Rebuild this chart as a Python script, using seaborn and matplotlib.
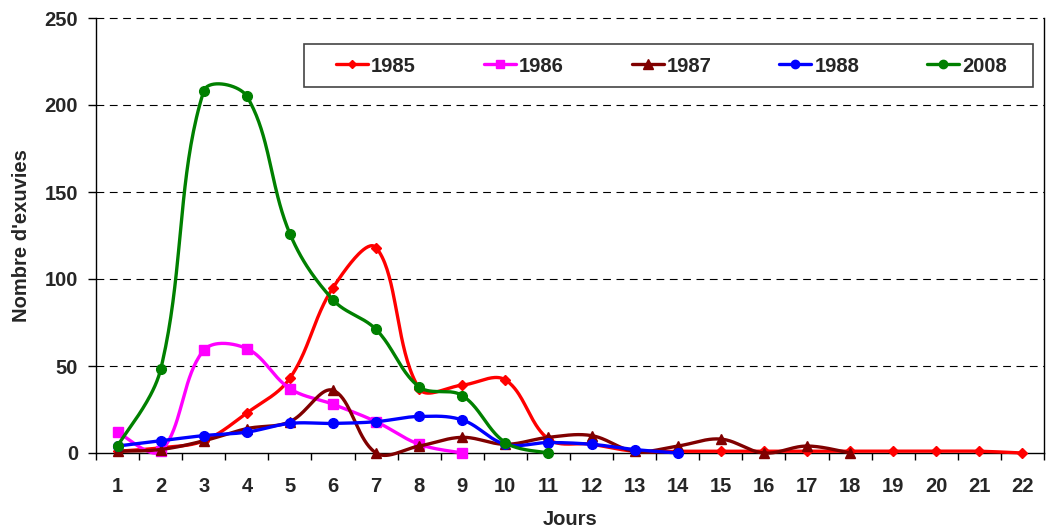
import numpy as np
import pandas as pd
import matplotlib
matplotlib.use("Agg")
import matplotlib.pyplot as plt
from matplotlib.lines import Line2D
from matplotlib.patches import Rectangle
import seaborn as sns

# ---------------- data ----------------
days = list(range(1, 23))
day_labels = [str(d) for d in days]
y_ticks = [0, 50, 100, 150, 200, 250]

series_names = ["1985", "1986", "1987", "1988", "2008"]
v1985 = [1, 3, 7, 23, 43, 95, 118, 37, 39, 42, 8, 5, 1, 1, 1, 1, 1, 1, 1, 1, 1, 0]
v1986 = [12, 1, 59, 60, 37, 28, 18, 5, 0]
v1987 = [1, 2, 7, 14, 18, 36, 0, 4, 9, 5, 9, 10, 1, 4, 8, 0, 4, 0]
v1988 = [4, 7, 10, 12, 17, 17, 18, 21, 19, 5, 6, 5, 2, 0]
v2008 = [4, 48, 208, 205, 126, 88, 71, 38, 33, 6, 0]
series_values = [v1985, v1986, v1987, v1988, v2008]

colors = ["#FF0000", "#FF00FF", "#800000", "#0000FF", "#008000"]
markers = ["D", "s", "^", "o", "o"]
msizes = [5.5, 6.5, 7.5, 7, 7]

# ---------------- style ----------------
sns.set_theme(style="white")
plt.rcParams["font.family"] = ["Liberation Sans", "DejaVu Sans"]
plt.rcParams["font.weight"] = "bold"

FS = 14.5

W, H = 1050, 527
fig = plt.figure(figsize=(W / 100, H / 100), dpi=100)
left, right, top, bottom = 96, 1044, 18, 453
ax = fig.add_axes([left / W, 1 - bottom / H, (right - left) / W, (bottom - top) / H])

ax.set_xlim(0.5, 22.5)
ax.set_ylim(0, 250)

# pixel scales for aspect-aware smoothing
sx = (right - left) / 22.0
sy = (bottom - top) / 250.0


def smooth_curve(xs, ys, n=40, k=0.36):
    P = np.column_stack([np.asarray(xs, float) * sx, np.asarray(ys, float) * sy])
    Pe = np.vstack([P[0], P, P[-1]])
    out = []
    for i in range(len(P) - 1):
        p0, p1, p2, p3 = Pe[i], Pe[i + 1], Pe[i + 2], Pe[i + 3]
        d01 = np.linalg.norm(p1 - p0)
        d12 = np.linalg.norm(p2 - p1)
        d23 = np.linalg.norm(p3 - p2)
        f1 = k * d12 / (d01 + d12) if (d01 + d12) > 0 else 0
        f2 = k * d12 / (d12 + d23) if (d12 + d23) > 0 else 0
        if i == 0:
            f1 = k * 0.5
        if i == len(P) - 2:
            f2 = k * 0.5
        c1 = p1 + (p2 - p0) * f1
        c2 = p2 - (p3 - p1) * f2
        t = np.linspace(0, 1, n)[:, None]
        seg = (1 - t) ** 3 * p1 + 3 * (1 - t) ** 2 * t * c1 + 3 * (1 - t) * t ** 2 * c2 + t ** 3 * p2
        out.append(seg if i == 0 else seg[1:])
    C = np.vstack(out)
    return C[:, 0] / sx, C[:, 1] / sy


# gridlines
for yv in y_ticks[1:]:
    ax.axhline(yv, color="black", lw=0.8, linestyle=(0, (7, 5)), zorder=1, clip_on=False)

handles = []
for i, (name, vals) in enumerate(zip(series_names, series_values)):
    xs = days[: len(vals)]
    cx, cy = smooth_curve(xs, vals)
    df = pd.DataFrame({"x": cx, "y": cy})
    sns.lineplot(data=df, x="x", y="y", sort=False, estimator=None, color=colors[i],
                 lw=2.4, ax=ax, zorder=3 + i, clip_on=False)
    ax.plot(xs, vals, linestyle="none", marker=markers[i], ms=msizes[i],
            color=colors[i], mec=colors[i], zorder=3 + i + 0.5, clip_on=False)
    handles.append(Line2D([], [], color=colors[i], lw=2.4, marker=markers[i],
                          ms=msizes[i] - 1, mec=colors[i]))

# spines
for s in ["left", "bottom", "right"]:
    ax.spines[s].set_visible(True)
    ax.spines[s].set_color("black")
    ax.spines[s].set_linewidth(1.0)
ax.spines["top"].set_visible(False)

# ticks
ax.set_xticks(days)
ax.set_xticklabels(day_labels, fontsize=FS, fontweight="bold")
ax.set_xticks(np.arange(0.5, 23, 1), minor=True)
ax.tick_params(axis="x", which="major", length=0, pad=17)
ax.tick_params(axis="x", which="minor", length=5, width=1, color="black", direction="out", bottom=True)
ax.set_yticks(y_ticks)
ax.set_yticklabels([str(v) for v in y_ticks], fontsize=FS, fontweight="bold")
ax.tick_params(axis="y", which="major", length=6, width=1, color="black", direction="out", left=True, pad=7)

ax.set_xlabel("Jours", fontsize=FS, fontweight="bold")
ax.set_ylabel("Nombre d'exuvies", fontsize=FS, fontweight="bold")
ax.xaxis.set_label_coords(0.5, -0.131)
ax.yaxis.set_label_coords(-0.069, 0.5)
ax.grid(False)

# legend box
fig.patches.append(Rectangle((304 / W, 1 - 87 / H), (1033 - 304) / W, (87 - 44) / H,
                             transform=fig.transFigure, facecolor="white",
                             edgecolor="#444444", lw=1.2, zorder=10))
leg = fig.legend(handles, series_names, ncol=5, frameon=False, mode="expand",
                 loc="center", bbox_to_anchor=(336 / W, 1 - 66 / H - 0.01, (1007 - 336) / W, 0.02),
                 bbox_transform=fig.transFigure, prop={"size": FS, "weight": "bold"},
                 handlelength=1.6, handletextpad=0.15, borderpad=0, borderaxespad=0)
leg.set_zorder(11)

fig.savefig("out.png", dpi=100)
